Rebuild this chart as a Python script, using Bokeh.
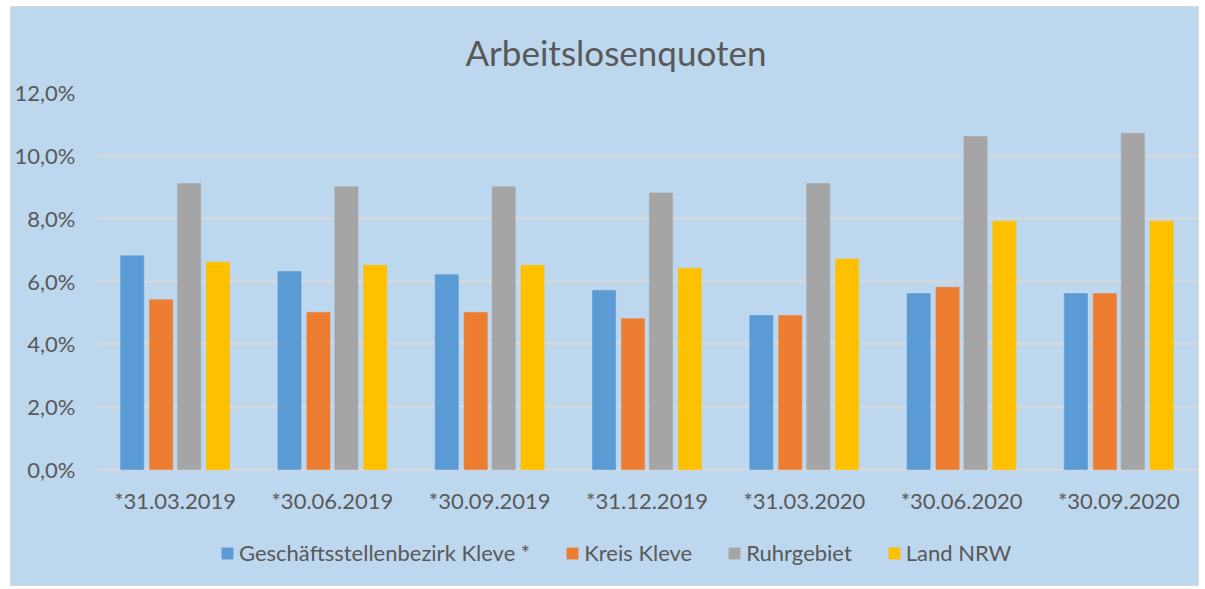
from bokeh.plotting import figure
from bokeh.models import FactorRange, ColumnDataSource, CustomJSTickFormatter, Legend, LegendItem, FixedTicker
from bokeh.transform import dodge
from bokeh.core.properties import value
from bokeh.embed import file_html
from bokeh.resources import INLINE

categories = ["*31.03.2019", "*30.06.2019", "*30.09.2019", "*31.12.2019",
              "*31.03.2020", "*30.06.2020", "*30.09.2020"]
series_names = ["Geschäftsstellenbezirk Kleve *", "Kreis Kleve", "Ruhrgebiet", "Land NRW"]
gst_kleve = [6.8, 6.3, 6.2, 5.7, 4.9, 5.6, 5.6]
kreis_kleve = [5.4, 5.0, 5.0, 4.8, 4.9, 5.8, 5.6]
ruhrgebiet = [9.1, 9.0, 9.0, 8.8, 9.1, 10.6, 10.7]
land_nrw = [6.6, 6.5, 6.5, 6.4, 6.7, 7.9, 7.9]
colors = ["#5B9BD5", "#ED7D31", "#A5A5A5", "#FFC000"]
y_ticks = [0, 2, 4, 6, 8, 10, 12]

src = ColumnDataSource(dict(cat=categories, base=[0] * len(categories),
                            s0=gst_kleve, s1=kreis_kleve, s2=ruhrgebiet, s3=land_nrw))

BG = "#BDD7EE"
TXT = "#595959"
FONT = "Lato"

# frame extends below the zero line so that category labels and legend sit inside it
p = figure(x_range=FactorRange(*categories, range_padding=0, factor_padding=0),
           y_range=(-3.692, 12), width=1189, height=580,
           output_backend="svg", toolbar_location=None,
           min_border_left=84, min_border_right=3, min_border_top=85, min_border_bottom=2)
p.background_fill_color = None
p.border_fill_color = None
p.outline_line_color = None
p.styles = {"border": "1px solid #D9D9D9", "margin-left": "10px", "margin-top": "6px",
            "background-color": BG}

p.title.text = "Arbeitslosenquoten"
p.title.align = "left"
p.title.offset = 369
p.title.text_font = FONT
p.title.text_font_size = "35px"
p.title.text_font_style = "normal"
p.title.text_color = TXT
p.title.standoff = 40

offsets = [-0.273, -0.089, 0.089, 0.272]
renderers = []
for i, off in enumerate(offsets):
    r = p.vbar(x=dodge("cat", off, range=p.x_range), top="s%d" % i, width=0.147,
               source=src, fill_color=colors[i], line_color=colors[i], line_alpha=0.6)
    renderers.append(r)

# category labels under the zero line
p.text(x="cat", y="base", text="cat", source=src, y_offset=31,
       text_align="center", text_baseline="middle",
       text_font=value(FONT), text_font_size="22px", text_color=TXT)

p.xaxis.visible = False

p.yaxis.ticker = FixedTicker(ticks=y_ticks)
p.yaxis.formatter = CustomJSTickFormatter(code="return tick.toFixed(1).replace('.', ',') + '%';")
p.yaxis.axis_line_color = None
p.yaxis.major_tick_line_color = None
p.yaxis.minor_tick_line_color = None
p.yaxis.major_label_text_font = FONT
p.yaxis.major_label_text_font_size = "22px"
p.yaxis.major_label_text_color = TXT
p.yaxis.major_label_standoff = 15

p.xgrid.grid_line_color = None
p.ygrid.ticker = FixedTicker(ticks=y_ticks)
p.ygrid.grid_line_color = "#D9D9D9"
p.ygrid.grid_line_width = 2

legend = Legend(items=[LegendItem(label=series_names[i], renderers=[renderers[i]]) for i in range(4)],
                orientation="horizontal", location=(124, 19),
                background_fill_alpha=0, border_line_color=None,
                label_text_font=FONT, label_text_font_size="22px", label_text_color=TXT,
                glyph_width=14, glyph_height=14, spacing=35, label_standoff=5,
                margin=0, padding=0)
p.add_layout(legend)

open("out.html", "w").write(file_html(p, INLINE))
